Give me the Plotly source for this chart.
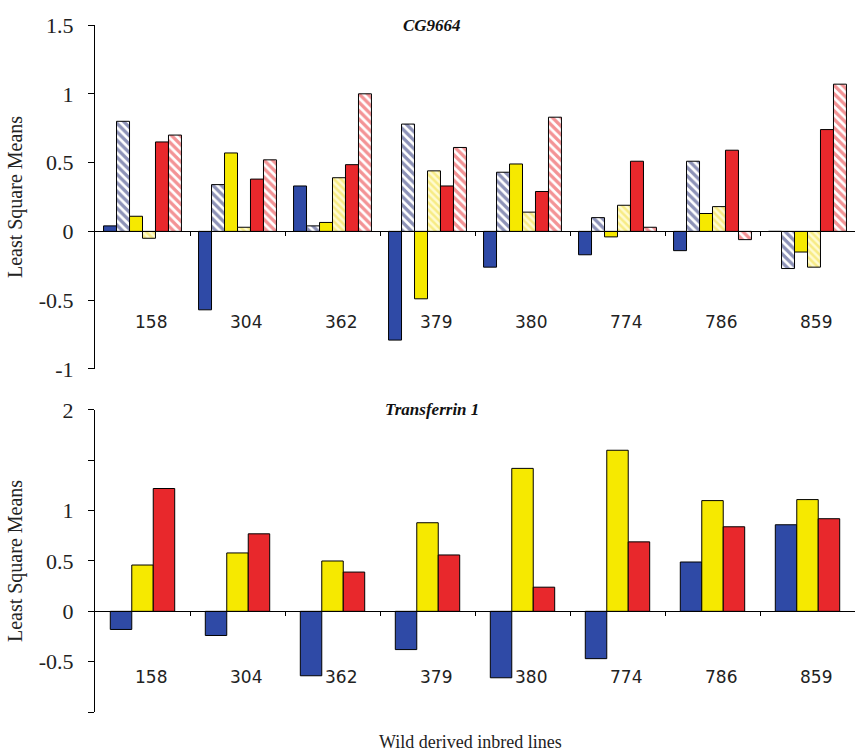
import plotly.graph_objects as go

lines = ["158", "304", "362", "379", "380", "774", "786", "859"]

# CG9664 (top panel): six series
cg_blue_solid = [0.04, -0.57, 0.33, -0.79, -0.26, -0.17, -0.14, 0.0]
cg_blue_hatch = [0.80, 0.34, 0.04, 0.78, 0.43, 0.10, 0.51, -0.27]
cg_yellow_solid = [0.11, 0.57, 0.065, -0.49, 0.49, -0.04, 0.13, -0.15]
cg_yellow_hatch = [-0.05, 0.03, 0.39, 0.44, 0.14, 0.19, 0.18, -0.26]
cg_red_solid = [0.65, 0.38, 0.485, 0.33, 0.29, 0.51, 0.59, 0.74]
cg_red_hatch = [0.70, 0.52, 1.00, 0.61, 0.83, 0.03, -0.06, 1.07]

# Transferrin 1 (bottom panel): three series
tf_blue = [-0.18, -0.24, -0.64, -0.38, -0.66, -0.47, 0.49, 0.86]
tf_yellow = [0.46, 0.58, 0.50, 0.88, 1.42, 1.60, 1.10, 1.11]
tf_red = [1.22, 0.77, 0.39, 0.56, 0.24, 0.69, 0.84, 0.92]

top_ticks = [-1, -0.5, 0, 0.5, 1, 1.5]
top_ticktext = ["-1", "-0.5", "0", "0.5", "1", "1.5"]
bot_ticks = [-1, -0.5, 0, 0.5, 1, 1.5, 2]
bot_ticktext = ["", "-0.5", "0", "0.5", "1", "", "2"]

BLUE = "#2f4aa6"
NAVY = "#1c2670"
YELLOW = "#f6e900"
PALEY = "#fbf3a0"
RED = "#e8282c"

SERIF = "Liberation Serif"
SANS = "DejaVu Sans"

pos = list(range(len(lines)))
boundaries = [p + 0.5 for p in pos[:-1]]

fig = go.Figure()
line = dict(color="black", width=1)

top_series = [
    (cg_blue_solid, dict(color=BLUE, line=line)),
    (cg_blue_hatch, dict(color="white", line=line,
                         pattern=dict(shape="\\", fgcolor=NAVY, bgcolor="white", size=6, solidity=0.55))),
    (cg_yellow_solid, dict(color=YELLOW, line=line)),
    (cg_yellow_hatch, dict(color=PALEY, line=line,
                           pattern=dict(shape="\\", fgcolor="#f0dc3a", bgcolor="#fffbd0", size=5, solidity=0.5))),
    (cg_red_solid, dict(color=RED, line=line)),
    (cg_red_hatch, dict(color="white", line=line,
                        pattern=dict(shape="\\", fgcolor=RED, bgcolor="white", size=6, solidity=0.55))),
]
for vals, mk in top_series:
    fig.add_trace(go.Bar(x=pos, y=vals, marker=mk, xaxis="x", yaxis="y", showlegend=False))

bw = 0.226
for i, (vals, col) in enumerate([(tf_blue, BLUE), (tf_yellow, YELLOW), (tf_red, RED)]):
    fig.add_trace(go.Bar(x=pos, y=vals, marker=dict(color=col, line=line),
                         width=bw, offset=-1.5 * bw + i * bw,
                         xaxis="x2", yaxis="y2", showlegend=False))

# Geometry (paper fractions)
top_dom = [0.4993, 1.0]
bot_dom = [0.0, 0.4396]
top_zero = top_dom[0] + (0 - (-1)) / 2.5 * (top_dom[1] - top_dom[0])
bot_zero = bot_dom[0] + (0 - (-1)) / 3.0 * (bot_dom[1] - bot_dom[0])

tickfont = dict(family=SERIF, size=22, color="#222")
titlefont = dict(family=SERIF, size=20, color="#222")
xr = [-0.5, len(lines) - 0.5]

fig.update_layout(
    width=857, height=752,
    margin=dict(l=95, r=2, t=25, b=40),
    paper_bgcolor="white", plot_bgcolor="white",
    barmode="group", bargap=0.18, bargroupgap=0,
    xaxis=dict(domain=[0, 1], anchor="free", position=top_zero, range=xr,
               showline=True, linecolor="black", linewidth=1,
               tickvals=boundaries, ticks="outside", ticklen=4, tickcolor="black",
               showticklabels=False, showgrid=False, zeroline=False),
    yaxis=dict(domain=top_dom, range=[-1, 1.5], anchor="x",
               tickvals=top_ticks, ticktext=top_ticktext, tickfont=tickfont,
               showline=True, linecolor="black", linewidth=1,
               ticks="outside", ticklen=6, tickcolor="black", ticklabelstandoff=10,
               showgrid=False, zeroline=False,
               title=dict(text="Least Square Means", font=titlefont, standoff=10)),
    xaxis2=dict(domain=[0, 1], anchor="free", position=bot_zero, range=xr,
                showline=True, linecolor="black", linewidth=1,
                tickvals=boundaries, ticks="outside", ticklen=4, tickcolor="black",
                showticklabels=False, showgrid=False, zeroline=False),
    yaxis2=dict(domain=bot_dom, range=[-1, 2], anchor="x2",
                tickvals=bot_ticks, ticktext=bot_ticktext, tickfont=tickfont,
                showline=True, linecolor="black", linewidth=1,
                ticks="outside", ticklen=6, tickcolor="black", ticklabelstandoff=10,
                showgrid=False, zeroline=False,
                title=dict(text="Least Square Means", font=titlefont, standoff=10)),
)

annots = []
for p, c in zip(pos, lines):
    annots.append(dict(x=p, y=-0.66, xref="x", yref="y", text=c, showarrow=False, xshift=8,
                       font=dict(family=SANS, size=17, color="#222")))
    annots.append(dict(x=p, y=-0.65, xref="x2", yref="y2", text=c, showarrow=False, xshift=8,
                       font=dict(family=SANS, size=17, color="#222")))
annots.append(dict(x=(432 - 95) / 760, y=1.5, xref="paper", yref="y", text="<b><i>CG9664</i></b>",
                   showarrow=False, font=dict(family=SERIF, size=17, color="#111"), yanchor="middle"))
annots.append(dict(x=(432 - 95) / 760, y=2.0, xref="paper", yref="y2", text="<b><i>Transferrin 1</i></b>",
                   showarrow=False, font=dict(family=SERIF, size=17, color="#111"), yanchor="middle"))
annots.append(dict(x=(470 - 95) / 760, y=0, xref="paper", yref="paper", yanchor="top", yshift=-18,
                   text="Wild derived inbred lines", showarrow=False,
                   font=dict(family=SERIF, size=18, color="#222")))
fig.update_layout(annotations=annots)

fig.write_html("out.html", config={"displayModeBar": False})

# remove the default page margin so the figure fills the window exactly
with open("out.html", "r", encoding="utf-8") as f:
    html = f.read()
html = html.replace("<body>", '<body style="margin:0;padding:0;">', 1)
html = html.replace("<head>", '<head><style>html,body{margin:0;padding:0;overflow:hidden;}</style>', 1)
with open("out.html", "w", encoding="utf-8") as f:
    f.write(html)
